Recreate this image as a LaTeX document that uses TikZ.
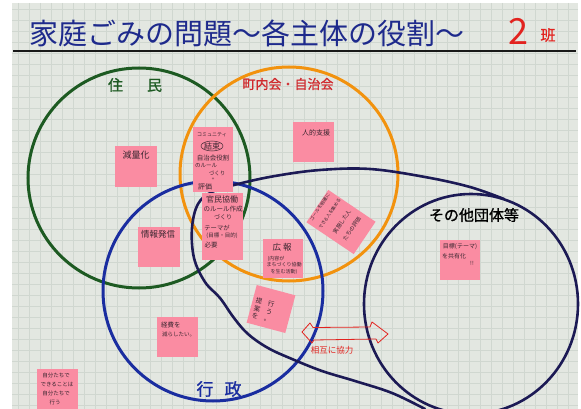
\documentclass[tikz,border=0pt]{standalone}
\usepackage{fontspec}
\newfontfamily\cjk{Noto Sans CJK JP}
\newfontfamily\cjkb[FakeBold=1.2]{Noto Sans CJK JP}
\usetikzlibrary{calc}
\definecolor{paper}{HTML}{E3E7E1}
\definecolor{gridc}{HTML}{D0D7D0}
\definecolor{notepink}{HTML}{FA8CA2}
\definecolor{notetext}{HTML}{3A2630}
\definecolor{titleblue}{HTML}{1E2A8C}
\definecolor{redmark}{HTML}{E2231F}
\definecolor{grn}{HTML}{1D5A22}
\definecolor{org}{HTML}{F2920E}
\definecolor{blu}{HTML}{1A2DA0}
\definecolor{nav}{HTML}{1C1A55}
\definecolor{labred}{HTML}{D02A2E}
\newcommand\nf[2]{\cjk\fontsize{#1}{#2}\selectfont}
\newcommand\nfb[2]{\cjkb\fontsize{#1}{#2}\selectfont}
\tikzset{
  sticky/.style={fill=notepink, draw=none, inner sep=0pt, minimum width=41pt, minimum height=40pt},
  nt/.style={text=notetext, inner sep=0pt, align=center},
  ring/.style={line width=3pt},
  lbl/.style={inner sep=0pt},
}
\begin{document}
\begin{tikzpicture}[x=1pt,y=-1pt]
\useasboundingbox (0,0) rectangle (581,409);
\fill[white] (0,0) rectangle (581,409);
\fill[paper] (12,3) rectangle (578,409);
\foreach \x in {18,29,...,577} \draw[gridc, line width=0.4pt] (\x,3) -- (\x,409);
\foreach \y in {9,20,...,408} \draw[gridc, line width=0.4pt] (12,\y) -- (578,\y);

% title
\node[lbl, anchor=west, text=titleblue, font=\nf{29}{32}] (title) at (29,33) {家庭ごみの問題～各主体の役割～};
\node[lbl, text=redmark, font=\nf{36}{38}] (num) at (518,31) {2};
\node[lbl, text=redmark, font=\nfb{15}{16}] (han) at (548,35) {班};
\draw[black!90, line width=2.2pt] (13,51) -- (576,51);

% circles
\draw[grn, ring] (139,178) ellipse [x radius=111pt, y radius=110pt];
\draw[org, ring] (289,174) ellipse [x radius=109pt, y radius=107pt];
\draw[blu, ring] (213,291) ellipse [x radius=110pt, y radius=110pt];
\draw[nav, line width=2.6pt] (471,304) ellipse [x radius=107pt, y radius=110pt];
\draw[nav, line width=2.6pt, line cap=round] plot[smooth, tension=0.6] coordinates {
 (504,199) (470,187) (425,177) (370,169) (320,170) (275,176) (238,184) (212,192)
 (198,204) (192,228) (194,258) (205,282) (220,298) (234,318) (248,334) (268,348)
 (292,359) (322,371) (355,381) (392,393) (425,409)};

% labels
\node[lbl, text=grn, font=\nfb{15}{16}] (jumin) at (135,85) {住\hspace{24pt}民};
\node[lbl, text=labred, font=\nfb{13}{14}] (chonai) at (288,84) {町内会・自治会};
\node[lbl, text=black, font=\nfb{15}{16}] (sonota) at (474,215) {その他団体等};
\node[lbl, text=blu, font=\nfb{17}{18}] (gyosei) at (219,389) {行\hspace{11pt}政};

% red double arrow
\draw[redmark, line width=0.8pt, line join=round] (302,332) -- (310,323) -- (313,327.5) -- (370,327) -- (372,322) -- (388,334) -- (378,343) -- (376,339) -- (314,340) -- (312,343) -- cycle;
\node[lbl, text=redmark, font=\nf{8.5}{9}] (kyoryoku) at (332,350) {相互に協力};

% sticky notes
\node[sticky, minimum width=42pt, minimum height=41pt] (n1) at (136,166.5) {};
\node[nt, font=\nf{9}{10}] (n1t) at (136,155) {減量化};

\node[sticky, minimum width=42pt, minimum height=40pt] (n2) at (159,247) {};
\node[nt, font=\nf{8.5}{9}] (n2t) at (158,234) {情報発信};

\node[sticky, minimum width=40pt, minimum height=65pt] (n3) at (213,159.5) {};
\node[nt, font=\nf{5}{6}] (c1) at (212,135) {コミュニティ};
\node[nt, font=\nf{8}{9}] (c2) at (212,146) {結束};
\draw[notetext, line width=0.5pt] (c2) ellipse [x radius=11pt, y radius=5pt];
\node[nt, font=\nf{6.5}{7}] (c3) at (213,158.5) {自治会役割};
\node[nt, font=\nf{5.5}{6}] (c4) at (206,166) {のルール};
\node[nt, font=\nf{5.5}{6}] (c5) at (217,173) {づくり};
\node[nt, font=\nf{4.5}{5}] (c6) at (213,179) {+};
\node[nt, font=\nf{7}{8}] (c7) at (205,186.5) {評価};

\node[sticky, minimum width=41pt, minimum height=67pt] (n4) at (222.5,226.5) {};
\node[nt, font=\nf{8}{9}] (k1) at (222,199) {官民協働};
\node[nt, font=\nf{6.5}{7}] (k2) at (223,209) {のルール作成};
\node[nt, font=\nf{6}{7}] (k3) at (223,217) {づくり};
\node[nt, font=\nf{6.3}{7}] (k4) at (217,228) {テーマが};
\node[nt, font=\nf{5.5}{6}] (k5) at (222,236) {(目標・目的)};
\node[nt, font=\nf{6.5}{7}] (k6) at (211,245) {必要};

\node[sticky, minimum width=41pt, minimum height=40pt] (n5) at (313.5,142) {};
\node[nt, font=\nf{7}{8}] (n5t) at (316,132.5) {人的支援};

\node[sticky, minimum width=57pt, minimum height=39pt, rotate=-34] (n6) at (341,222) {};
\node[nt, rotate=56] (n6t) at (336,218) {{\nf{4.5}{5.5}ゴールを明確に}\\{\nf{4.5}{5.5}できる人を集める}\\[3pt]{\nf{5.5}{6.5}実施した人}\\{\nf{5.5}{6.5}たちの評価}};

\node[sticky, minimum width=40pt, minimum height=39pt] (n7) at (283,258.5) {};
\node[nt, font=\nf{8.5}{9}] (g1) at (282,247) {広\hspace{2pt}報};
\node[nt, font=\nf{5}{6}] (g2) at (276,259) {(内容が};
\node[nt, font=\nf{5}{6}] (g3) at (284,265) {まちづくり協働};
\node[nt, font=\nf{5}{6}] (g4) at (284,272) {を生む活動)};

\node[sticky, minimum width=40pt, minimum height=39pt, rotate=-15] (n8) at (271,309) {};
\node[nt, rotate=-15, font=\nf{6.5}{7.5}] (n8t) at (263,311) {\begin{tabular}{@{}c@{\hspace{6pt}}c@{}}提&行\\案&う\\を&。\end{tabular}};

\node[sticky, minimum width=41pt, minimum height=40pt] (n9) at (177.5,337) {};
\node[nt, anchor=west, font=\nf{6.5}{7}] (e1) at (161,325) {経費を};
\node[nt, anchor=west, font=\nf{5.5}{6}] (e2) at (162,334) {減らしたい。};

\node[sticky, minimum width=41pt, minimum height=41pt] (n10) at (57.5,389.5) {};
\node[nt, font=\nf{5.5}{6}] (j1) at (56,375) {自分たちで};
\node[nt, font=\nf{5.5}{6}] (j2) at (57,384) {できることは};
\node[nt, font=\nf{5.5}{6}] (j3) at (56,393) {自分たちで};
\node[nt, font=\nf{5.5}{6}] (j4) at (55,402) {行う};

\node[sticky, minimum width=40pt, minimum height=40pt] (n11) at (460,260) {};
\node[nt, font=\nf{6}{7}] (m1) at (460,247) {目標(テーマ)};
\node[nt, font=\nf{6}{7}] (m2) at (454,256) {を共有化};
\node[nt, font=\nf{5.5}{6}] (m3) at (472,263) {!!};
\end{tikzpicture}
\end{document}
